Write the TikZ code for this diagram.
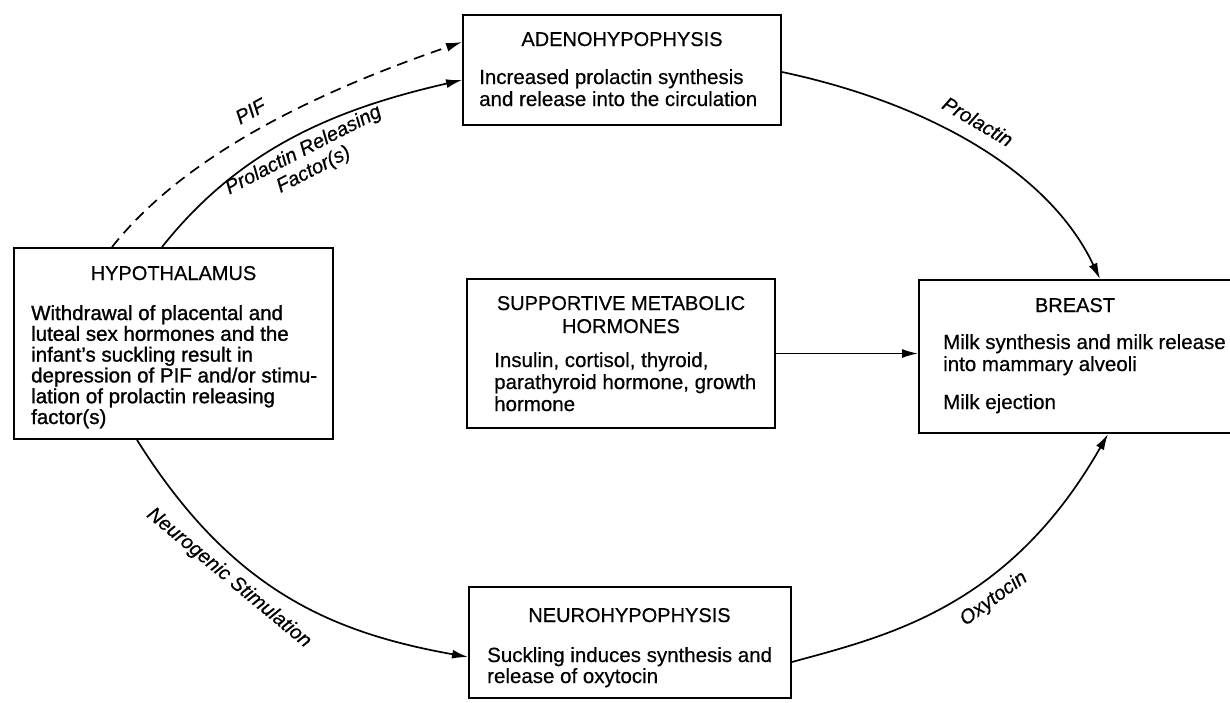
\documentclass[tikz,border=0pt]{standalone}
\usepackage{fontspec}
\setmainfont{Liberation Sans}[FakeBold=0.5]
\newfontfamily\hyfont{Liberation Sans}[FakeBold=1.2]
\usetikzlibrary{arrows.meta,calc}
\begin{document}
\begin{tikzpicture}[x=1pt,y=-1pt,
  box/.style={draw,line width=1.9pt,inner sep=0pt},
  ttl/.style={font=\fontsize{20}{23}\selectfont,inner sep=0pt,anchor=base,align=center},
  body/.style={font=\fontsize{20.5}{22}\selectfont,inner sep=0pt,anchor=base west,align=left},
  conn/.style={line width=1.7pt,-{Latex[length=16pt,width=9pt]}},
  lbl/.style={font=\fontsize{20}{22}\selectfont\itshape,sloped,inner sep=5pt}]
\useasboundingbox (0,0) rectangle (1230,702);

% boxes
\node[box,minimum width=318pt,minimum height=110pt] (adeno) at (622,70) {};
\node[box,minimum width=319pt,minimum height=191pt] (hypo) at (173.5,343.5) {};
\node[box,minimum width=308pt,minimum height=149pt] (supp) at (621,353.5) {};
\node[box,minimum width=317pt,minimum height=153pt] (breast) at (1077.5,356.5) {};
\node[box,minimum width=322pt,minimum height=111pt] (neuro) at (630,642.5) {};

% texts (anchor base = baseline of the last line)
\node[ttl] (adenoT) at (622,46) {ADENOHYPOPHYSIS};
\node[body] (adenoB) at (479,106) {Increased prolactin synthesis\\and release into the circulation};

\node[ttl] (hypoT) at (173.5,280) {HYPOTHALAMUS};
\node[body,font=\hyfont\fontsize{20.5}{20.8}\selectfont] (hypoB) at (31,424) {Withdrawal of placental and\\luteal sex hormones and the\\infant’s suckling result in\\depression of PIF and/or stimu-\\lation of prolactin releasing\\factor(s)};

\node[ttl] (suppT) at (621,333) {SUPPORTIVE METABOLIC\\HORMONES};
\node[body] (suppB) at (494,411) {Insulin, cortisol, thyroid,\\parathyroid hormone, growth\\hormone};

\node[ttl] (breastT) at (1075,312) {BREAST};
\node[body] (breastB) at (943,371) {Milk synthesis and milk release\\into mammary alveoli};
\node[body] (breastC) at (943,409) {Milk ejection};

\node[ttl] (neuroT) at (629.5,622) {NEUROHYPOPHYSIS};
\node[body,font=\fontsize{20.5}{21}\selectfont] (neuroB) at (487,683) {Suckling induces synthesis and\\release of oxytocin};

% connectors
\draw[conn,dash pattern=on 11pt off 7pt] ([xshift=-61.5pt]hypo.north) .. controls (192,146) and (340,84) .. ([yshift=28pt]adeno.west)
  node[lbl,pos=0.47,above,inner sep=12pt] (pif) {PIF};
\draw[conn] ([xshift=-11.5pt]hypo.north) .. controls (242,146) and (340,108) .. ([yshift=-10pt]adeno.west)
  node[lbl,pos=0.5,below,align=center,inner sep=6pt] (prf) {Prolactin Releasing\\Factor(s)};
\draw[conn] ([yshift=-2pt]adeno.east) .. controls (928,103) and (1049,171) .. ([xshift=22.5pt]breast.north)
  node[lbl,pos=0.47,above,inner sep=14pt] (prl) {Prolactin};
\draw[conn] (supp.east) -- (supp.east -| breast.west);
\draw[conn] ([xshift=-36.5pt]hypo.south) .. controls (230,588) and (328,632) .. ([yshift=-14.5pt]neuro.west)
  node[lbl,pos=0.36,below,inner sep=9pt] (neur) {Neurogenic Stimulation};
\draw[conn] ([yshift=-19.5pt]neuro.east) .. controls (887,636) and (1009,608) .. ([xshift=30.5pt]breast.south)
  node[lbl,pos=0.6,below,inner sep=11pt] (oxy) {Oxytocin};
\end{tikzpicture}
\end{document}
